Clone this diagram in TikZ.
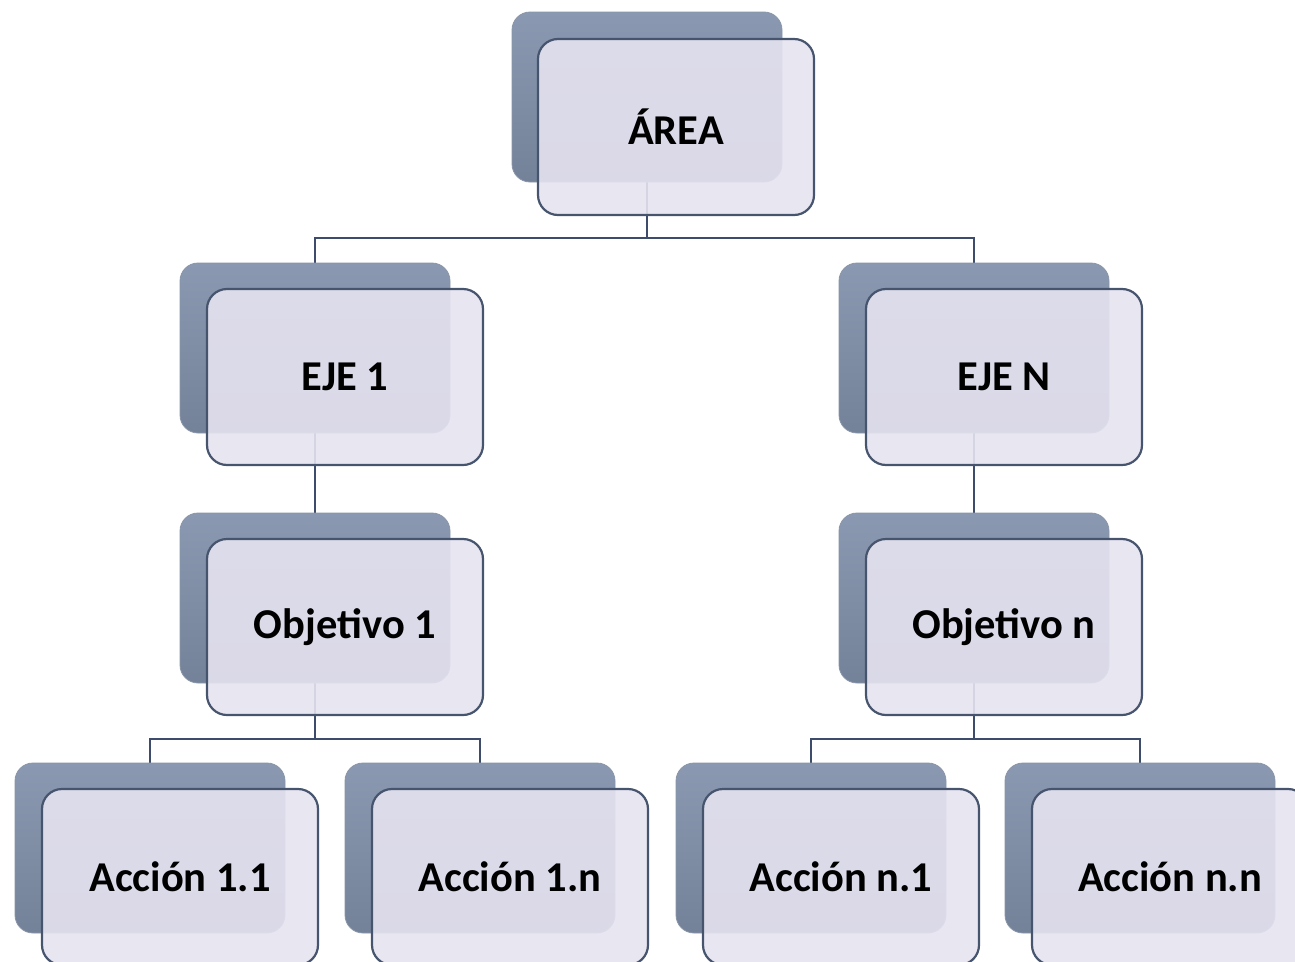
\documentclass[tikz,border=0pt]{standalone}
\usepackage{fontspec}
\setmainfont{Carlito}
\usetikzlibrary{backgrounds}
\definecolor{backtop}{RGB}{138,153,177}
\definecolor{backbot}{RGB}{116,130,153}
\definecolor{frontfill}{RGB}{230,227,240}
\definecolor{frontline}{RGB}{70,84,110}
\definecolor{connline}{RGB}{60,76,106}
\tikzset{
  x=1pt, y=1pt,
  backbox/.style={rectangle, rounded corners=18pt, minimum width=270pt, minimum height=170pt,
    top color=backtop, bottom color=backbot, draw=backbot!85!white, line width=0.8pt, inner sep=0pt},
  frontbox/.style={rectangle, rounded corners=20pt, minimum width=276pt, minimum height=176pt,
    fill=frontfill, fill opacity=0.9, text opacity=1, draw=frontline, line width=2.2pt, inner sep=0pt,
    font=\fontsize{42.5}{48}\selectfont\bfseries, text=black},
  conn/.style={draw=connline, line width=2.3pt}
}
\begin{document}
\begin{tikzpicture}
\useasboundingbox (0,0) rectangle (1295,-961);
% back boxes
\node[backbox] (areaB) at (647,-97) {};
\node[backbox] (eje1B) at (315,-348) {};
\node[backbox] (ejeNB) at (974,-348) {};
\node[backbox] (obj1B) at (315,-598) {};
\node[backbox] (objNB) at (974,-598) {};
\node[backbox] (a11B) at (150,-848) {};
\node[backbox] (a1nB) at (480,-848) {};
\node[backbox] (an1B) at (811,-848) {};
\node[backbox] (annB) at (1140,-848) {};
% front boxes
\node[frontbox] (areaF) at (676,-127) {ÁREA};
\node[frontbox] (eje1F) at (345,-377) {EJE 1};
\node[frontbox] (ejeNF) at (1004,-377) {EJE N};
\node[frontbox] (obj1F) at (345,-627) {Objetivo 1};
\node[frontbox] (objNF) at (1004,-627) {Objetivo n};
\node[frontbox] (a11F) at (180,-877) {Acción 1.1};
\node[frontbox] (a1nF) at (510,-877) {Acción 1.n};
\node[frontbox] (an1F) at (841,-877) {Acción n.1};
\node[frontbox] (annF) at (1170,-877) {Acción n.n};
\coordinate (h1) at (0,-238);
\coordinate (h2) at (0,-739);
\begin{scope}[on background layer]
\draw[conn] (areaB.south) -- (areaB.south |- h1) -| (eje1B.north);
\draw[conn] (areaB.south |- h1) -| (ejeNB.north);
\draw[conn] (eje1B.south) -- (obj1B.north);
\draw[conn] (ejeNB.south) -- (objNB.north);
\draw[conn] (obj1B.south) -- (obj1B.south |- h2) -| (a11B.north);
\draw[conn] (obj1B.south |- h2) -| (a1nB.north);
\draw[conn] (objNB.south) -- (objNB.south |- h2) -| (an1B.north);
\draw[conn] (objNB.south |- h2) -| (annB.north);
\end{scope}
\end{tikzpicture}
\end{document}
